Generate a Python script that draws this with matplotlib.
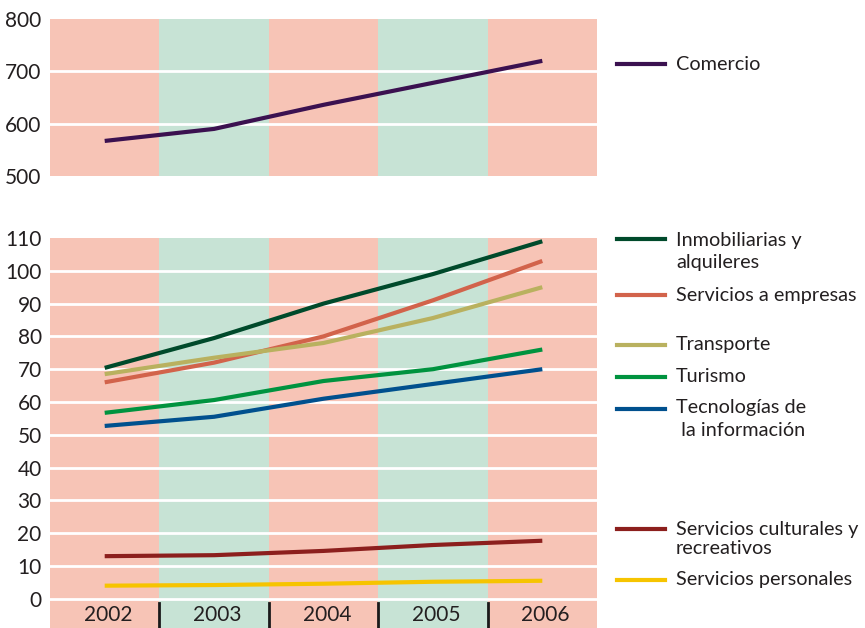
import matplotlib
matplotlib.use("Agg")
import matplotlib.pyplot as plt
from matplotlib.lines import Line2D

plt.rcParams['font.family'] = ['Lato', 'DejaVu Sans']

years = ["2002", "2003", "2004", "2005", "2006"]
comercio = [567, 590, 636, 678, 720]
inmobiliarias = [70.4, 79.5, 90, 99, 109]
serv_empresas = [66, 72, 80, 91, 103]
transporte = [68.5, 73.5, 78, 85.6, 95]
turismo = [56.7, 60.6, 66.4, 70, 76]
tecnologias = [52.7, 55.5, 61, 65.5, 70]
serv_culturales = [13, 13.3, 14.6, 16.4, 17.7]
serv_personales = [4, 4.2, 4.6, 5.2, 5.5]

top_ticks = [500, 600, 700, 800]
bottom_ticks = [0, 10, 20, 30, 40, 50, 60, 70, 80, 90, 100, 110]

series_bottom = [
    ("Inmobiliarias y\nalquileres", inmobiliarias, "#004a2b"),
    ("Servicios a empresas", serv_empresas, "#d2634b"),
    ("Transporte", transporte, "#b9b15f"),
    ("Turismo", turismo, "#00933f"),
    ("Tecnologías de\n la información", tecnologias, "#00508e"),
    ("Servicios culturales y\nrecreativos", serv_culturales, "#8c1f1d"),
    ("Servicios personales", serv_personales, "#f6c400"),
]
comercio_color = "#3b1150"

SALMON = "#f7c4b6"
GREEN = "#c7e3d5"
TXT = "#231f20"

W, H = 865, 628
fig = plt.figure(figsize=(W / 100, H / 100), dpi=100)

def px_axes(l, t, r, b):
    return fig.add_axes([l / W, 1 - b / H, (r - l) / W, (b - t) / H])

xs = [i + 0.5 for i in range(len(years))]

def draw_bands(ax):
    for i in range(len(years)):
        ax.axvspan(i, i + 1, color=SALMON if i % 2 == 0 else GREEN, lw=0, zorder=0)

# Top panel
axt = px_axes(50, 19, 597, 176)
draw_bands(axt)
axt.set_xlim(0, len(years))
axt.set_ylim(500, 800)
for v in [600, 700]:
    axt.axhline(v, color="white", lw=2, zorder=1)
axt.plot(xs, comercio, color=comercio_color, lw=3, zorder=3, solid_capstyle="butt")
axt.set_yticks(top_ticks)
axt.set_yticklabels([str(t) for t in top_ticks], fontsize=15, color=TXT)
axt.set_xticks([])
axt.tick_params(axis="y", length=0, pad=6)
for s in axt.spines.values():
    s.set_visible(False)

# Bottom panel
ymin = -8.9
axb = px_axes(50, 238, 597, 628)
draw_bands(axb)
axb.set_xlim(0, len(years))
axb.set_ylim(ymin, 110)
for v in range(0, 101, 10):
    axb.axhline(v, color="white", lw=2, zorder=1)
for name, vals, col in series_bottom:
    axb.plot(xs, vals, color=col, lw=3, zorder=3, solid_capstyle="butt")
axb.set_yticks(bottom_ticks)
axb.set_yticklabels([str(t) for t in bottom_ticks], fontsize=15, color=TXT)
axb.set_xticks([])
axb.tick_params(axis="y", length=0, pad=6)
for s in axb.spines.values():
    s.set_visible(False)
for i, y in enumerate(years):
    axb.text(xs[i] + 0.03, -5.0, y, ha="center", va="center", fontsize=15, color=TXT)
for i in range(1, len(years)):
    axb.plot([i, i], [-1.2, ymin], color="#1a1a1a", lw=2, zorder=4, clip_on=False)

# Legend (custom placement)
def leg(y_line, baselines, label, col):
    fig.add_artist(Line2D([617 / W, 665 / W], [1 - y_line / H, 1 - y_line / H],
                          color=col, lw=3, transform=fig.transFigure))
    for yb, part in zip(baselines, label.split("\n")):
        fig.text(676 / W, 1 - yb / H, part, ha="left", va="baseline",
                 fontsize=14.3, color=TXT)

leg(64, [70.5], "Comercio", comercio_color)
legend_pos = [(239, [246.5, 268]), (295, [301.5]), (345, [350]), (377, [381.5]),
              (409, [413.5, 435.5]), (529, [534.5, 553.5]), (580, [585])]
for (yl, yb), (name, vals, col) in zip(legend_pos, series_bottom):
    leg(yl, yb, name, col)

fig.savefig("out.png", dpi=100)
